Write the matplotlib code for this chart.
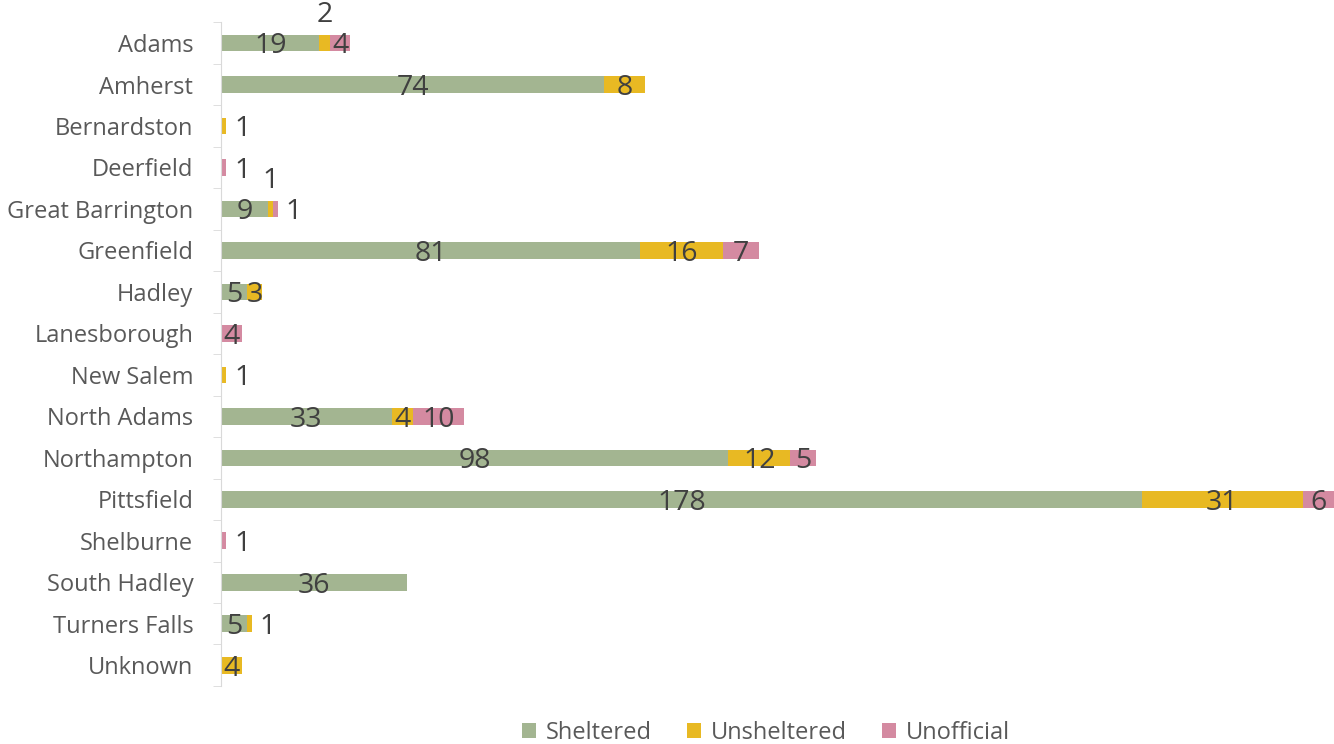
import numpy as np
import matplotlib.pyplot as plt

towns = ['Adams', 'Amherst', 'Bernardston', 'Deerfield', 'Great Barrington',
         'Greenfield', 'Hadley', 'Lanesborough', 'New Salem', 'North Adams',
         'Northampton', 'Pittsfield', 'Shelburne', 'South Hadley',
         'Turners Falls', 'Unknown']
sheltered = [19, 74, 0, 0, 9, 81, 5, 0, 0, 33, 98, 178, 0, 36, 5, 0]
unsheltered = [2, 8, 1, 0, 1, 16, 3, 0, 1, 4, 12, 31, 0, 0, 1, 4]
unofficial = [4, 0, 0, 1, 1, 7, 0, 4, 0, 10, 5, 6, 1, 0, 0, 0]

series = [('Sheltered', sheltered, '#a3b591'),
          ('Unsheltered', unsheltered, '#e8b923'),
          ('Unofficial', unofficial, '#d48aa1')]

plt.rcParams['font.family'] = ['Open Sans', 'DejaVu Sans']
fig = plt.figure(figsize=(13.34, 7.44), dpi=100)
ax = fig.add_axes([0.1657, 0.078, 0.834, 0.892])

y = np.arange(len(towns))
left = np.zeros(len(towns))
for si, (name, vals, col) in enumerate(series):
    vals = np.array(vals, dtype=float)
    ax.barh(y, vals, left=left, height=0.4, color=col, label=name)
    for i, v in enumerate(vals):
        if v == 0:
            continue
        later = sum(series[k][1][i] for k in range(si + 1, 3))
        if v <= 2 and later == 0:
            # tiny last segment: label to the right
            ax.text(left[i] + v + 1.5, y[i] + 0.08, str(int(v)), ha='left', va='center',
                    fontsize=20.5, color='#404040')
        elif v <= 2:
            # tiny middle segment: label above
            ax.text(left[i] + v / 2, y[i] - 0.68, str(int(v)), ha='center', va='center',
                    fontsize=20.5, color='#404040')
        else:
            ax.text(left[i] + v / 2, y[i] + 0.08, str(int(v)), ha='center', va='center',
                    fontsize=20.5, color='#404040')
    left += vals

ax.set_ylim(len(towns) - 0.5, -0.5)
ax.set_xlim(0, 215)
ax.set_yticks(y)
ax.set_yticklabels(towns, fontsize=17, color='#595959')
ax.set_yticks(np.arange(-0.5, len(towns)), minor=True)
ax.tick_params(axis='y', which='major', length=0, pad=20)
ax.tick_params(axis='y', which='minor', length=6, color='#d9d9d9')
ax.set_xticks([])
for s in ['top', 'right', 'bottom']:
    ax.spines[s].set_visible(False)
ax.spines['left'].set_color('#d9d9d9')

fig.legend(loc='lower center', bbox_to_anchor=(0.574, -0.03), ncol=3, frameon=False,
           fontsize=17, handlelength=0.6, handleheight=0.6, handletextpad=0.4,
           columnspacing=1.5, labelcolor='#595959')

fig.savefig('out.png', dpi=100)
